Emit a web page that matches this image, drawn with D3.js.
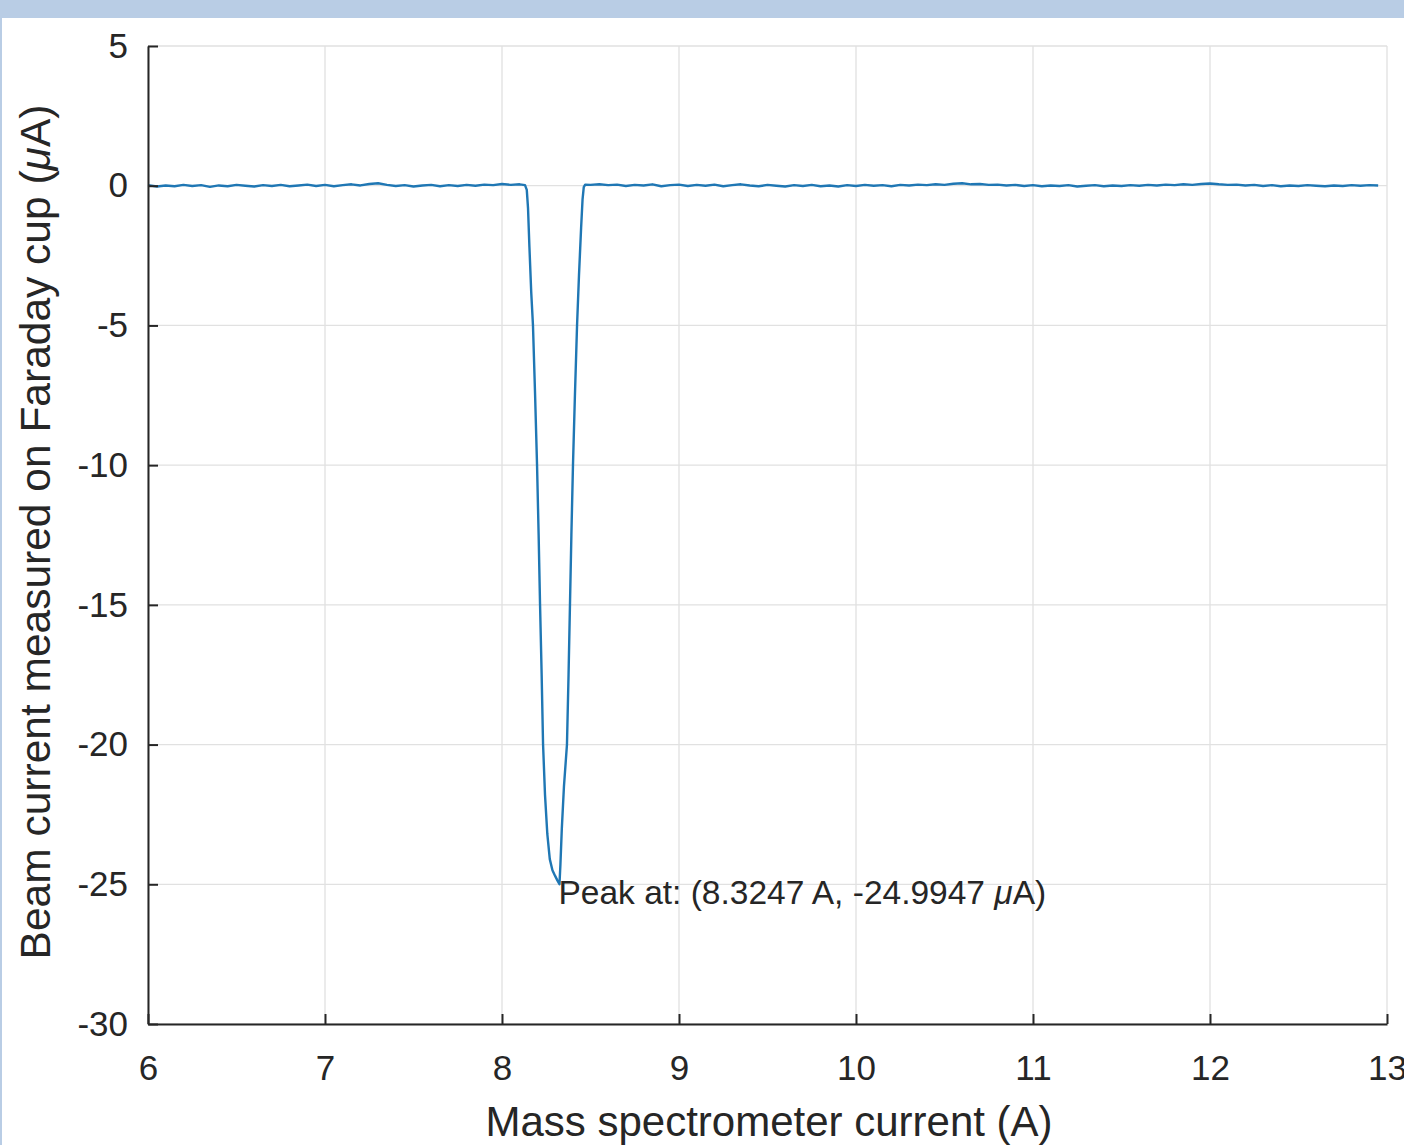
<!DOCTYPE html>
<html>
<head>
<meta charset="utf-8">
<script src="https://cdn.jsdelivr.net/npm/d3@7"></script>
<style>
  body { margin: 0; background: #fff; }
  svg text { font-family: "Liberation Sans", Arial, sans-serif; fill: #262626; }
</style>
</head>
<body>
<div id="chart"></div>
<script>
// x ticks (A) and y ticks (uA)
const xTicks = [6, 7, 8, 9, 10, 11, 12, 13]
const yTicks = [-30, -25, -20, -15, -10, -5, 0, 5]

// baseline before the peak [A, uA]
const baseLeft = [
  [6.00,0.02],[6.05,-0.03],[6.10,0.01],[6.15,-0.02],[6.20,0.03],[6.25,-0.01],[6.30,0.02],[6.35,-0.04],
  [6.40,0.01],[6.45,-0.02],[6.50,0.03],[6.55,0.00],[6.60,-0.03],[6.65,0.02],[6.70,-0.01],[6.75,0.03],
  [6.80,-0.02],[6.85,0.01],[6.90,0.04],[6.95,-0.01],[7.00,0.03],[7.05,-0.02],[7.10,0.02],[7.15,0.05],
  [7.20,0.01],[7.25,0.06],[7.30,0.09],[7.35,0.03],[7.40,-0.01],[7.45,0.02],[7.50,-0.03],[7.55,0.01],
  [7.60,0.03],[7.65,-0.02],[7.70,0.02],[7.75,-0.01],[7.80,0.03],[7.85,0.00],[7.90,0.04],[7.95,0.02],
  [8.00,0.06],[8.05,0.03],[8.10,0.05]
]

// the dip
const peakPts = [
  [8.130,0.02],[8.140,-0.15],[8.147,-0.8],[8.155,-2.2],[8.165,-3.8],[8.175,-5],[8.187,-7.5],[8.198,-10],
  [8.207,-12.5],[8.215,-15],[8.224,-17.5],[8.232,-20],[8.243,-21.8],[8.256,-23.2],[8.270,-24.1],[8.285,-24.5],
  [8.300,-24.7],[8.312,-24.85],[8.3247,-24.9947],[8.330,-24.3],[8.338,-23.0],[8.350,-21.5],[8.367,-20],
  [8.376,-17.5],[8.384,-15],[8.392,-12.5],[8.401,-10],[8.412,-7.5],[8.424,-5],[8.435,-3.2],[8.447,-1.5],
  [8.455,-0.5],[8.462,-0.05],[8.470,0.04]
]

// baseline after the peak
const baseRight = [
  [8.50,0.03],[8.55,0.05],[8.60,0.02],[8.65,0.04],[8.70,-0.01],[8.75,0.03],[8.80,0.01],[8.85,0.05],
  [8.90,-0.02],[8.95,0.02],[9.00,0.04],[9.05,-0.01],[9.10,0.03],[9.15,0.00],[9.20,0.04],[9.25,-0.02],
  [9.30,0.02],[9.35,0.05],[9.40,0.01],[9.45,-0.02],[9.50,0.03],[9.55,0.00],[9.60,-0.03],[9.65,0.02],
  [9.70,-0.01],[9.75,0.03],[9.80,-0.02],[9.85,0.01],[9.90,-0.03],[9.95,0.02],[10.00,-0.01],[10.05,0.03],
  [10.10,0.00],[10.15,0.02],[10.20,-0.02],[10.25,0.03],[10.30,0.01],[10.35,0.04],[10.40,0.02],[10.45,0.05],
  [10.50,0.03],[10.55,0.07],[10.60,0.09],[10.65,0.05],[10.70,0.06],[10.75,0.03],[10.80,0.04],[10.85,0.01],
  [10.90,0.03],[10.95,-0.01],[11.00,0.02],[11.05,-0.02],[11.10,0.01],[11.15,-0.01],[11.20,0.02],[11.25,-0.03],
  [11.30,0.00],[11.35,0.02],[11.40,-0.02],[11.45,0.01],[11.50,-0.01],[11.55,0.02],[11.60,0.00],[11.65,0.03],
  [11.70,0.01],[11.75,0.04],[11.80,0.02],[11.85,0.05],[11.90,0.03],[11.95,0.06],[12.00,0.08],[12.05,0.05],
  [12.10,0.03],[12.15,0.04],[12.20,0.01],[12.25,0.03],[12.30,-0.01],[12.35,0.02],[12.40,-0.02],[12.45,0.01],
  [12.50,-0.01],[12.55,0.02],[12.60,0.00],[12.65,-0.02],[12.70,0.01],[12.75,-0.01],[12.80,0.02],[12.85,0.00],
  [12.90,0.02],[12.95,0.01]
]

const peak = [8.3247, -24.9947]

const W = 1404, H = 1145
const m = {left: 148, right: 1387, top: 46, bottom: 1024}

var svg = d3.select('#chart').append('svg')
	.attr('width', W).attr('height', H)

// window frame strip
svg.append('rect').attr('x', 0).attr('y', 0).attr('width', W).attr('height', 18).attr('fill', '#b9cde5')
svg.append('rect').attr('x', 0).attr('y', 0).attr('width', 2).attr('height', H).attr('fill', '#b9cde5')

var x = d3.scaleLinear().domain([6, 13]).range([m.left, m.right])
var y = d3.scaleLinear().domain([-30, 5]).range([m.bottom, m.top])

// grid
var grid = svg.append('g').attr('stroke', '#e1e1e1').attr('stroke-width', 1.3)
grid.selectAll('.gx').data(xTicks).enter().append('line')
	.attr('x1', d => x(d)).attr('x2', d => x(d))
	.attr('y1', m.top).attr('y2', m.bottom)
grid.selectAll('.gy').data(yTicks).enter().append('line')
	.attr('y1', d => y(d)).attr('y2', d => y(d))
	.attr('x1', m.left).attr('x2', m.right)

// data line
var data = baseLeft.concat(peakPts, baseRight)
var line = d3.line().x(d => x(d[0])).y(d => y(d[1]))
svg.append('path').datum(data)
	.attr('d', line)
	.attr('fill', 'none')
	.attr('stroke', '#1f77b4')
	.attr('stroke-width', 2.4)
	.attr('stroke-linejoin', 'round')

// axes
var fmt = d => String(d)
var xAxis = d3.axisBottom(x).tickValues(xTicks).tickFormat(fmt).tickSizeInner(-10).tickSizeOuter(0).tickPadding(31)
var yAxis = d3.axisLeft(y).tickValues(yTicks).tickFormat(fmt).tickSizeInner(-10).tickSizeOuter(0).tickPadding(20)

var gx = svg.append('g').attr('transform', 'translate(0,' + m.bottom + ')').call(xAxis)
var gy = svg.append('g').attr('transform', 'translate(' + m.left + ',0)').call(yAxis)

;[gx, gy].forEach(function(g) {
	g.select('.domain').attr('stroke', '#262626').attr('stroke-width', 2)
	g.selectAll('.tick line').attr('stroke', '#262626').attr('stroke-width', 2)
	g.selectAll('.tick text')
		.attr('font-size', 35)
		.attr('font-family', '"Liberation Sans", Arial, sans-serif')
		.attr('fill', '#262626')
})

// axis labels
svg.append('text')
	.attr('x', 769)
	.attr('y', 1136)
	.attr('text-anchor', 'middle')
	.attr('font-size', 42)
	.text('Mass spectrometer current (A)')

var yl = svg.append('text')
	.attr('transform', 'translate(50,' + 532 + ') rotate(-90)')
	.attr('text-anchor', 'middle')
	.attr('font-size', 42.5)
yl.append('tspan').text('Beam current measured on Faraday cup (')
yl.append('tspan').attr('font-style', 'italic').text('\u03bc')
yl.append('tspan').text('A)')

// peak annotation
var ann = svg.append('text')
	.attr('x', x(peak[0]) - 1)
	.attr('y', y(peak[1]) + 20)
	.attr('font-size', 33.5)
ann.append('tspan').text('Peak at: (' + peak[0] + ' A, ' + peak[1] + ' ')
ann.append('tspan').attr('font-style', 'italic').text('\u03bc')
ann.append('tspan').text('A)')
</script>
</body>
</html>
